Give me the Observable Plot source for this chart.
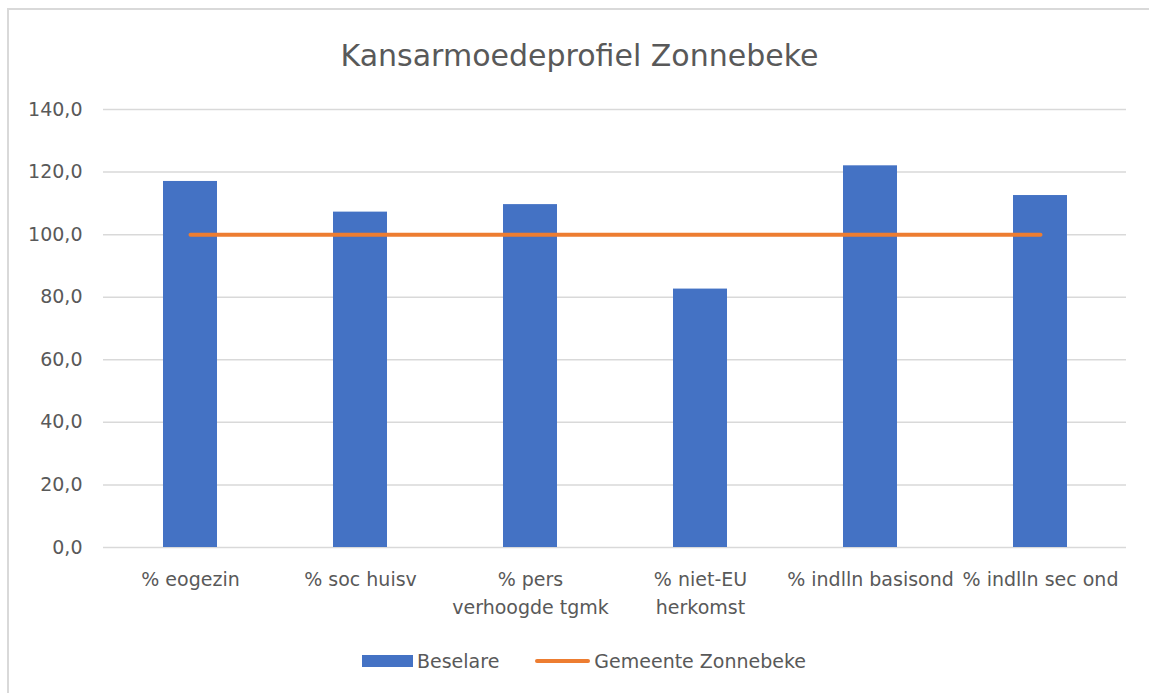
<!DOCTYPE html>
<html>
<head>
<meta charset="utf-8">
<script src="https://cdn.jsdelivr.net/npm/d3@7"></script>
<script src="https://cdn.jsdelivr.net/npm/@observablehq/plot@0.6"></script>
<style>
  html, body { margin: 0; padding: 0; background: #fff; }
  body { width: 1149px; height: 693px; position: relative; overflow: hidden; font-family: "DejaVu Sans", sans-serif; color: #595959; }
  #frame { position: absolute; left: 7px; top: 8px; width: 1160px; height: 700px; border-left: 2px solid #d9d9d9; border-top: 2px solid #d9d9d9; box-sizing: border-box; pointer-events: none; }
  #title { height: 90px; line-height: 112px; text-align: center; font-size: 30px; color: #595959; padding-left: 10px; }
  #chart { position: absolute; left: 0; top: 90px; }
  #legend { position: absolute; top: 650px; left: 362px; display: flex; align-items: center; font-size: 19px; color: #595959; }
  .sw-bar { width: 51px; height: 12px; background: #4472C4; margin-right: 4px; }
  .sw-line { width: 55px; height: 4px; border-radius: 2px; background: #ED7D31; margin-left: 36px; margin-right: 4px; }
</style>
</head>
<body>
<div id="frame"></div>
<div id="title">Kansarmoedeprofiel Zonnebeke</div>
<div id="chart"></div>
<div id="legend"><div class="sw-bar"></div><span>Beselare</span><div class="sw-line"></div><span>Gemeente Zonnebeke</span></div>
<script>
const categories = ["% eogezin", "% soc huisv", "% pers\nverhoogde tgmk", "% niet-EU\nherkomst", "% indlln basisond", "% indlln sec ond"];
const beselare = [117.0, 107.2, 109.6, 82.6, 122.0, 112.5];
const gemeente = [100, 100, 100, 100, 100, 100];
const yTicks = [0, 20, 40, 60, 80, 100, 120, 140];

const bars = categories.map((c, i) => ({cat: c, value: beselare[i]}));
const line = categories.map((c, i) => ({cat: c, value: gemeente[i]}));
const fmt = v => v.toFixed(1).replace(".", ",");

const plot = Plot.plot({
  width: 1149,
  height: 540,
  marginTop: 19,
  marginBottom: 83,
  marginLeft: 103,
  marginRight: 23,
  style: {fontFamily: "'DejaVu Sans', sans-serif", fontSize: "19px", color: "#595959", background: "transparent"},
  x: {domain: categories, paddingInner: 0.684, paddingOuter: 0.342, label: null},
  y: {domain: [0, 140], label: null},
  marks: [
    Plot.gridY(yTicks, {stroke: "#d9d9d9", strokeOpacity: 1, strokeWidth: 1.5}),
    Plot.axisY(yTicks, {tickSize: 0, tickPadding: 21, tickFormat: fmt, label: null, fill: "#595959", fontSize: 19}),
    Plot.axisX({tickSize: 0, tickPadding: 18, label: null, fill: "#595959", fontSize: 19, lineHeight: 1.5}),
    Plot.barY(bars, {x: "cat", y: "value", fill: "#4472C4"}),
    Plot.line(line, {x: "cat", y: "value", stroke: "#ED7D31", strokeWidth: 4, strokeLinecap: "round"})
  ]
});
document.getElementById("chart").appendChild(plot);
</script>
</body>
</html>
